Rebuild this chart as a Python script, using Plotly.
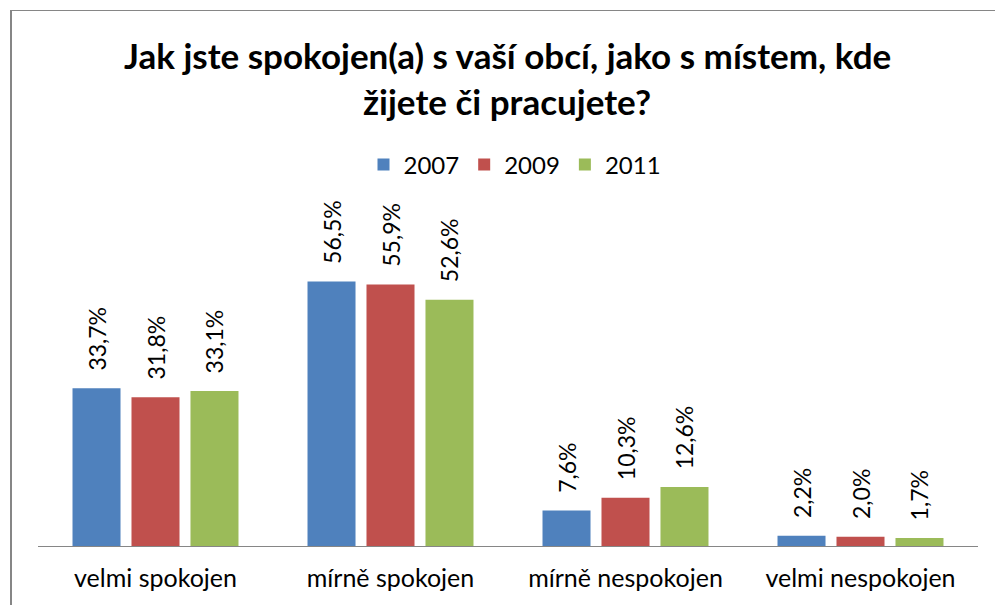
import plotly.graph_objects as go

categories = ["velmi spokojen", "mírně spokojen", "mírně nespokojen", "velmi nespokojen"]
years = ["2007", "2009", "2011"]
values_2007 = [33.7, 56.5, 7.6, 2.2]
values_2009 = [31.8, 55.9, 10.3, 2.0]
values_2011 = [33.1, 52.6, 12.6, 1.7]
colors = ["#4F81BD", "#C0504D", "#9BBB59"]
title_lines = ["Jak jste spokojen(a) s vaší obcí, jako s místem, kde", "žijete či pracujete?"]

FONT = "Lato"
W, H = 995, 605
L, R, T, B = 38, 17, 200, 59
px_per_unit = 4.68
ymax = (H - T - B) / px_per_unit

def fmt(v):
    return "\u00a0\u00a0\u2009" + f"{v:.1f}".replace(".", ",") + "%"

fig = go.Figure()
for name, vals, col in zip(years, [values_2007, values_2009, values_2011], colors):
    fig.add_trace(go.Bar(
        x=categories, y=vals, name=name,
        marker=dict(color=col, line=dict(width=0)),
        text=[fmt(v) for v in vals],
        textposition="outside", textangle=-90, constraintext="none",
        textfont=dict(family=FONT, size=23, color="#000000"),
        cliponaxis=False,
    ))

plot_w = W - L - R
plot_h = H - T - B
def px_x(x):
    return (x - L) / plot_w
def px_y(y):
    return (H - B - y) / plot_h

fig.update_layout(
    width=W, height=H,
    margin=dict(l=L, r=R, t=T, b=B, pad=0, autoexpand=False),
    paper_bgcolor="white", plot_bgcolor="white",
    barmode="group", bargap=0.247, bargroupgap=0.186,
    showlegend=True,
    legend=dict(orientation="h", x=px_x(515), xanchor="center", y=px_y(165), yanchor="middle",
                font=dict(family=FONT, size=24, color="#000000"), traceorder="normal"),
    xaxis=dict(showline=True, linecolor="#868686", linewidth=1, ticks="",
               tickfont=dict(family=FONT, size=25, color="#000000"), showgrid=False,
               zeroline=False, fixedrange=True, automargin=False, ticklabelstandoff=10),
    yaxis=dict(range=[0, ymax], visible=False, showgrid=False, zeroline=False, automargin=False),
    font=dict(family=FONT),
    annotations=[
        dict(text=f"<b>{title_lines[0]}</b>", xref="paper", yref="paper", x=px_x(507), y=px_y(55),
             xanchor="center", yanchor="middle", showarrow=False,
             font=dict(family=FONT, size=35, color="#000000")),
        dict(text=f"<b>{title_lines[1]}</b>", xref="paper", yref="paper", x=px_x(507), y=px_y(101),
             xanchor="center", yanchor="middle", showarrow=False,
             font=dict(family=FONT, size=35, color="#000000")),
    ],
    shapes=[
        dict(type="line", xref="paper", yref="paper", x0=px_x(11), x1=px_x(11), y0=px_y(10), y1=px_y(605),
             line=dict(color="#868686", width=2)),
        dict(type="line", xref="paper", yref="paper", x0=px_x(10), x1=px_x(995), y0=px_y(10.5), y1=px_y(10.5),
             line=dict(color="#868686", width=1)),
    ],
)

fig.write_html("out.html", config={"displayModeBar": False},
               post_script="document.body.style.margin='0px';document.body.style.overflow='hidden';")
